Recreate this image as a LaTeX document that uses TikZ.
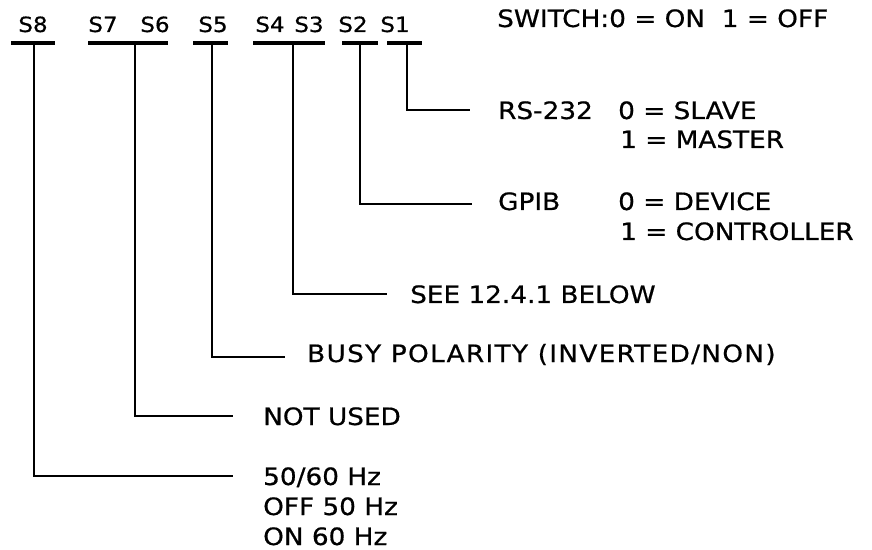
\documentclass[tikz,border=0pt]{standalone}
\usepackage{fontspec}
\setmainfont{DejaVu Sans}[FakeStretch=1.1,FakeBold=0.6]
\begin{document}
\begin{tikzpicture}[x=1bp,y=-1bp,
  lbl/.style={inner sep=0pt, anchor=base west, font=\fontsize{24}{28}\selectfont},
  swl/.style={inner sep=0pt, anchor=base, font=\fontsize{21}{25}\selectfont},
  bar/.style={line width=3.4bp},
  wire/.style={line width=2.2bp}]
\useasboundingbox (0,0) rectangle (872,550);
% switch labels
\node[swl] (s8) at (33,32) {S8};
\node[swl] (s7) at (103,32) {S7};
\node[swl] (s6) at (155,32) {S6};
\node[swl] (s5) at (213,32) {S5};
\node[swl] (s4) at (270,32) {S4};
\node[swl] (s3) at (309,32) {S3};
\node[swl] (s2) at (353,32) {S2};
\node[swl] (s1) at (395,32) {S1};
% bars
\draw[bar] (11,43) -- (55,43);
\draw[bar] (88,43) -- (168,43);
\draw[bar] (193,43) -- (228,43);
\draw[bar] (253,43) -- (325,43);
\draw[bar] (342,43) -- (378,43);
\draw[bar] (387,43) -- (422,43);
\coordinate (b8) at (34,43);
\coordinate (b76) at (135,43);
\coordinate (b5) at (212,43);
\coordinate (b43) at (293,43);
\coordinate (b2) at (360,43);
\coordinate (b1) at (407,43);
% line ends
\coordinate (e1) at (470,110);
\coordinate (e2) at (472,204);
\coordinate (e43) at (387,294);
\coordinate (e5) at (285,357);
\coordinate (e76) at (233,416);
\coordinate (e8) at (233,476);
\draw[wire] (b1) |- (e1);
\draw[wire] (b2) |- (e2);
\draw[wire] (b43) |- (e43);
\draw[wire] (b5) |- (e5);
\draw[wire] (b76) |- (e76);
\draw[wire] (b8) |- (e8);
% texts
\node[lbl] (sw) at (497,27) {SWITCH:0 = ON\ \ 1 = OFF};
\node[lbl] (rs) at (498,119) {RS-232};
\node[lbl] (rs0) at (618,119) {0 = SLAVE};
\node[lbl] (rs1) at (620,148) {1 = MASTER};
\node[lbl] (gp) at (498,210) {GPIB};
\node[lbl] (gp0) at (618,210) {0 = DEVICE};
\node[lbl] (gp1) at (620,240) {1 = CONTROLLER};
\node[lbl] (see) at (410,303) {SEE 12.4.1 BELOW};
\node[lbl] (busy) at (307,362) {\addfontfeatures{LetterSpace=5.5}BUSY POLARITY (INVERTED/NON)};
\node[lbl] (nu) at (263,425) {NOT USED};
\node[lbl] (hz) at (263,485) {50/60 Hz};
\node[lbl] (hz0) at (263,515) {OFF 50 Hz};
\node[lbl] (hz1) at (263,545) {ON 60 Hz};
\end{tikzpicture}
\end{document}
